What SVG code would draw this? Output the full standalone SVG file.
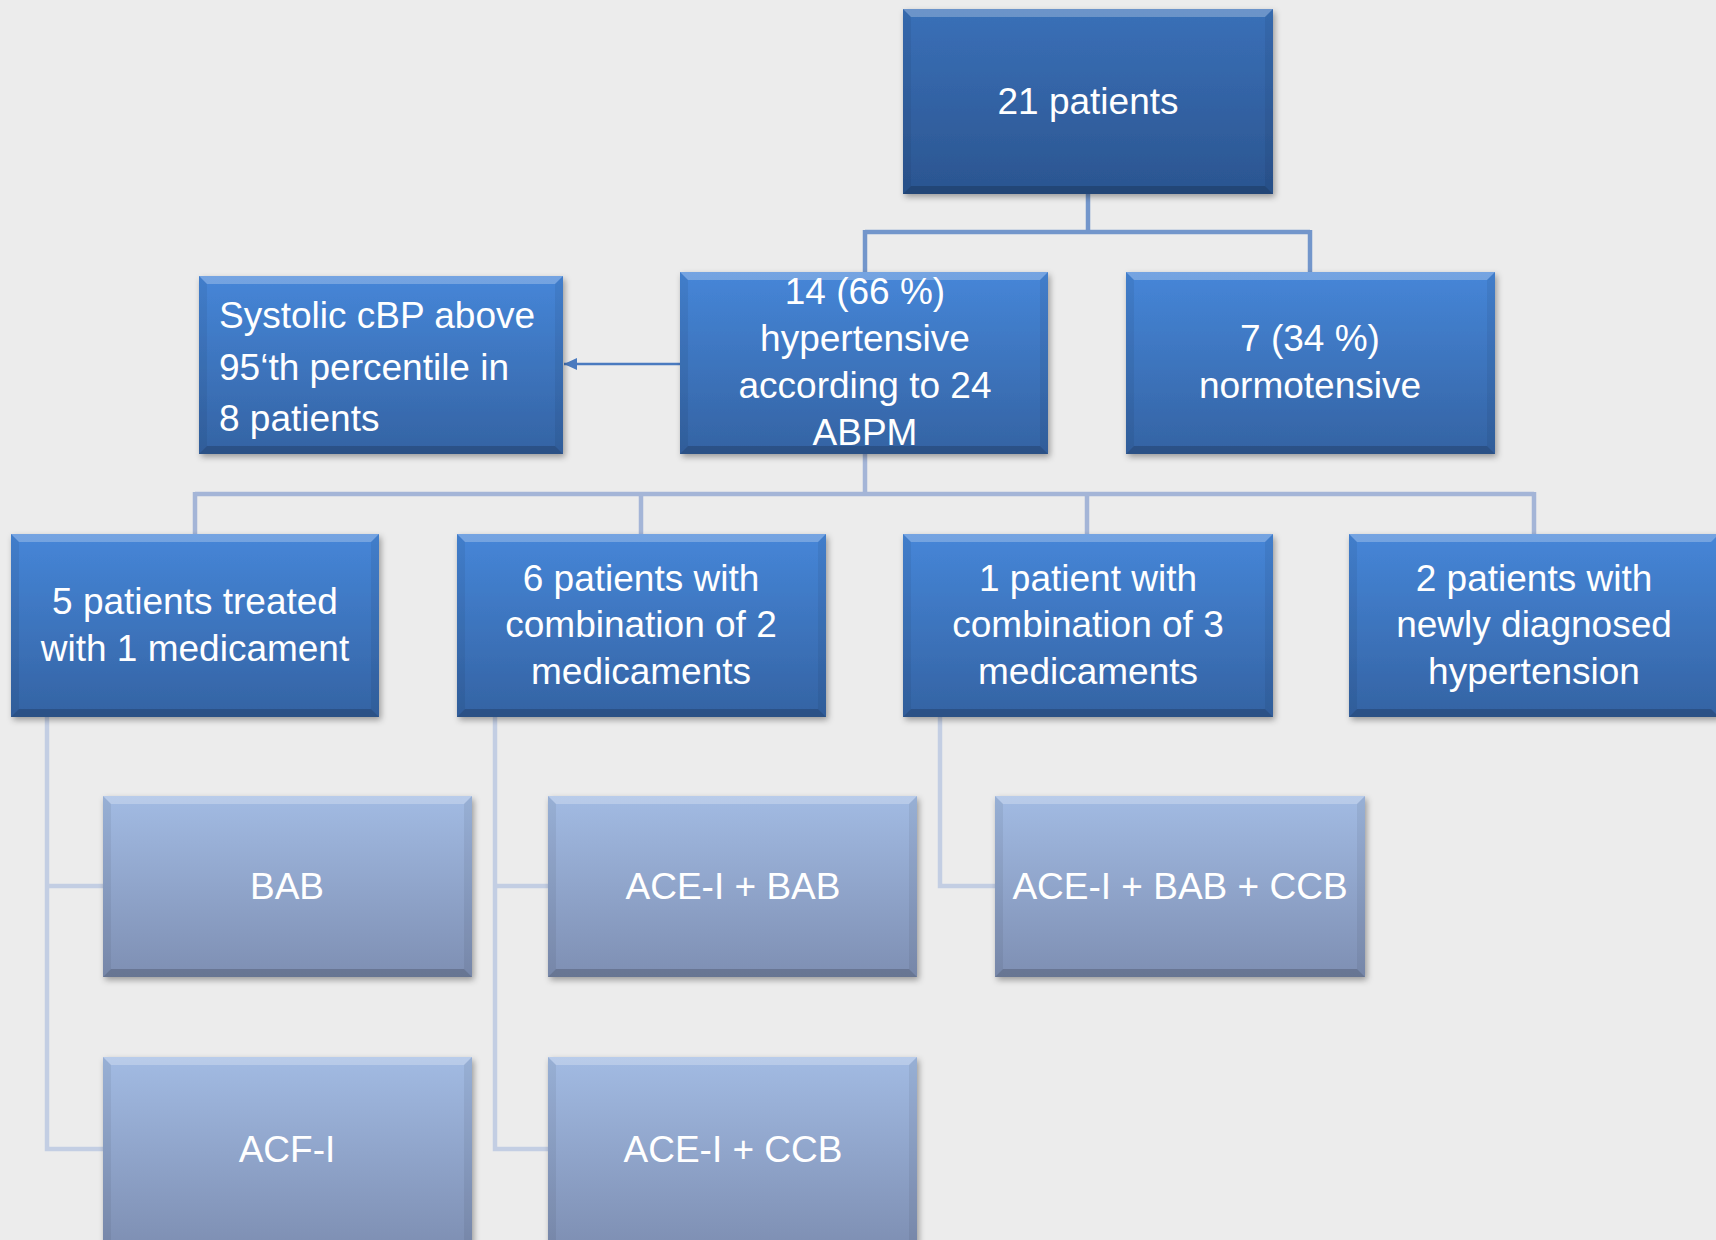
<svg xmlns="http://www.w3.org/2000/svg" width="1716" height="1240" viewBox="0 0 1716 1240">
<style>
.t{font-family:"Liberation Sans",Arial,sans-serif;font-size:37px;fill:#ffffff;text-anchor:middle}
.tl{text-anchor:start}
.dk{fill:url(#gDark)}
.md{fill:url(#gMid)}
.lt{fill:url(#gLight)}
.bt{fill:#ffffff;fill-opacity:0.25}
.bb{fill:#000000;fill-opacity:0.18}
.bs{fill:#000000;fill-opacity:0.06}
.c1{stroke:#7396cb;stroke-width:4.5;fill:none}
.c2{stroke:#a4b5d7;stroke-width:4.5;fill:none}
.c3{stroke:#c3cee3;stroke-width:4.5;fill:none}
.ar{stroke:#4a7abf;stroke-width:2.5;fill:none}
</style>
<defs>
<linearGradient id="gDark" x1="0" y1="0" x2="0" y2="1">
<stop offset="0" stop-color="#3a70b8"/><stop offset="1" stop-color="#2b5590"/>
</linearGradient>
<linearGradient id="gMid" x1="0" y1="0" x2="0" y2="1">
<stop offset="0" stop-color="#4686d8"/><stop offset="1" stop-color="#3463a3"/>
</linearGradient>
<linearGradient id="gLight" x1="0" y1="0" x2="0" y2="1">
<stop offset="0" stop-color="#a2bbe3"/><stop offset="1" stop-color="#7e8fb3"/>
</linearGradient>
<filter id="sh" x="-10%" y="-10%" width="120%" height="125%">
<feDropShadow dx="2" dy="3" stdDeviation="3" flood-color="#000" flood-opacity="0.35"/>
</filter>
<marker id="ah" markerWidth="14" markerHeight="14" refX="13" refY="7" orient="auto" markerUnits="userSpaceOnUse">
<path d="M0,1 L13,7 L0,13 Z" fill="#4a7abf"/>
</marker>
</defs>
<rect width="1716" height="1240" fill="#ececec"/>

<g id="connectors">
<path class="c1" d="M1088 194 V232 M865 232 H1310 M865 230 V272 M1310 230 V272"/>
<path class="c2" d="M865 454 V494 M195 494 H1534 M195 492 V534 M641 494 V534 M1087 494 V534 M1534 492 V534"/>
<path class="c3" d="M47 717 V1149 H103 M47 886 H103 M495 717 V1149 H548 M495 886 H548 M940 717 V886 H995"/>
<path class="ar" d="M680 364 H564" marker-end="url(#ah)"/>
</g>

<g id="n21">
<rect x="903" y="9" width="370" height="185" class="dk" filter="url(#sh)"/>
<polygon class="bt" points="903,9 1273,9 1265,17 911,17"/>
<polygon class="bs" points="903,9 911,17 911,186 903,194"/>
<polygon class="bs" points="1273,9 1265,17 1265,186 1273,194"/>
<polygon class="bb" points="903,194 911,186 1265,186 1273,194"/>
<text class="t" x="1088" y="114">21 patients</text>
</g>

<g id="n14">
<rect x="680" y="272" width="368" height="182" class="md" filter="url(#sh)"/>
<polygon class="bt" points="680,272 1048,272 1040,280 688,280"/>
<polygon class="bs" points="680,272 688,280 688,446 680,454"/>
<polygon class="bs" points="1048,272 1040,280 1040,446 1048,454"/>
<polygon class="bb" points="680,454 688,446 1040,446 1048,454"/>
<text class="t" x="865" y="304">14 (66 %)</text>
<text class="t" x="865" y="351">hypertensive</text>
<text class="t" x="865" y="398">according to 24</text>
<text class="t" x="865" y="445">ABPM</text>
</g>

<g id="n7">
<rect x="1126" y="272" width="369" height="182" class="md" filter="url(#sh)"/>
<polygon class="bt" points="1126,272 1495,272 1487,280 1134,280"/>
<polygon class="bs" points="1126,272 1134,280 1134,446 1126,454"/>
<polygon class="bs" points="1495,272 1487,280 1487,446 1495,454"/>
<polygon class="bb" points="1126,454 1134,446 1487,446 1495,454"/>
<text class="t" x="1310" y="351">7 (34 %)</text>
<text class="t" x="1310" y="398">normotensive</text>
</g>

<g id="nSys">
<rect x="199" y="276" width="364" height="178" class="md" filter="url(#sh)"/>
<polygon class="bt" points="199,276 563,276 555,284 207,284"/>
<polygon class="bs" points="199,276 207,284 207,446 199,454"/>
<polygon class="bs" points="563,276 555,284 555,446 563,454"/>
<polygon class="bb" points="199,454 207,446 555,446 563,454"/>
<text class="t tl" x="219" y="328">Systolic cBP above</text>
<text class="t tl" x="219" y="380">95‘th percentile in</text>
<text class="t tl" x="219" y="431">8 patients</text>
</g>

<g id="n5">
<rect x="11" y="534" width="368" height="183" class="md" filter="url(#sh)"/>
<polygon class="bt" points="11,534 379,534 371,542 19,542"/>
<polygon class="bs" points="11,534 19,542 19,709 11,717"/>
<polygon class="bs" points="379,534 371,542 371,709 379,717"/>
<polygon class="bb" points="11,717 19,709 371,709 379,717"/>
<text class="t" x="195" y="614">5 patients treated</text>
<text class="t" x="195" y="661">with 1 medicament</text>
</g>

<g id="n6">
<rect x="457" y="534" width="369" height="183" class="md" filter="url(#sh)"/>
<polygon class="bt" points="457,534 826,534 818,542 465,542"/>
<polygon class="bs" points="457,534 465,542 465,709 457,717"/>
<polygon class="bs" points="826,534 818,542 818,709 826,717"/>
<polygon class="bb" points="457,717 465,709 818,709 826,717"/>
<text class="t" x="641" y="591">6 patients with</text>
<text class="t" x="641" y="637">combination of 2</text>
<text class="t" x="641" y="684">medicaments</text>
</g>

<g id="n1">
<rect x="903" y="534" width="370" height="183" class="md" filter="url(#sh)"/>
<polygon class="bt" points="903,534 1273,534 1265,542 911,542"/>
<polygon class="bs" points="903,534 911,542 911,709 903,717"/>
<polygon class="bs" points="1273,534 1265,542 1265,709 1273,717"/>
<polygon class="bb" points="903,717 911,709 1265,709 1273,717"/>
<text class="t" x="1088" y="591">1 patient with</text>
<text class="t" x="1088" y="637">combination of 3</text>
<text class="t" x="1088" y="684">medicaments</text>
</g>

<g id="n2">
<rect x="1349" y="534" width="370" height="183" class="md" filter="url(#sh)"/>
<polygon class="bt" points="1349,534 1719,534 1711,542 1357,542"/>
<polygon class="bs" points="1349,534 1357,542 1357,709 1349,717"/>
<polygon class="bb" points="1349,717 1357,709 1711,709 1719,717"/>
<text class="t" x="1534" y="591">2 patients with</text>
<text class="t" x="1534" y="637">newly diagnosed</text>
<text class="t" x="1534" y="684">hypertension</text>
</g>

<g id="nBAB">
<rect x="103" y="796" width="369" height="181" class="lt" filter="url(#sh)"/>
<polygon class="bt" points="103,796 472,796 464,804 111,804"/>
<polygon class="bs" points="103,796 111,804 111,969 103,977"/>
<polygon class="bs" points="472,796 464,804 464,969 472,977"/>
<polygon class="bb" points="103,977 111,969 464,969 472,977"/>
<text class="t" x="287" y="899">BAB</text>
</g>

<g id="nACEBAB">
<rect x="548" y="796" width="369" height="181" class="lt" filter="url(#sh)"/>
<polygon class="bt" points="548,796 917,796 909,804 556,804"/>
<polygon class="bs" points="548,796 556,804 556,969 548,977"/>
<polygon class="bs" points="917,796 909,804 909,969 917,977"/>
<polygon class="bb" points="548,977 556,969 909,969 917,977"/>
<text class="t" x="733" y="899">ACE-I + BAB</text>
</g>

<g id="nACEBABCCB">
<rect x="995" y="796" width="370" height="181" class="lt" filter="url(#sh)"/>
<polygon class="bt" points="995,796 1365,796 1357,804 1003,804"/>
<polygon class="bs" points="995,796 1003,804 1003,969 995,977"/>
<polygon class="bs" points="1365,796 1357,804 1357,969 1365,977"/>
<polygon class="bb" points="995,977 1003,969 1357,969 1365,977"/>
<text class="t" x="1180" y="899">ACE-I + BAB + CCB</text>
</g>

<g id="nACF">
<rect x="103" y="1057" width="369" height="190" class="lt" filter="url(#sh)"/>
<polygon class="bt" points="103,1057 472,1057 464,1065 111,1065"/>
<polygon class="bs" points="103,1057 111,1065 111,1240 103,1240"/>
<polygon class="bs" points="472,1057 464,1065 464,1240 472,1240"/>
<text class="t" x="287" y="1162">ACF-I</text>
</g>

<g id="nACECCB">
<rect x="548" y="1057" width="369" height="190" class="lt" filter="url(#sh)"/>
<polygon class="bt" points="548,1057 917,1057 909,1065 556,1065"/>
<polygon class="bs" points="548,1057 556,1065 556,1240 548,1240"/>
<polygon class="bs" points="917,1057 909,1065 909,1240 917,1240"/>
<text class="t" x="733" y="1162">ACE-I + CCB</text>
</g>
</svg>
